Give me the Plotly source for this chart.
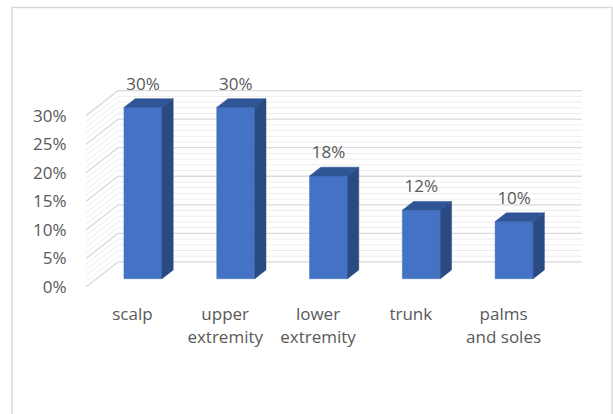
import plotly.graph_objects as go

categories = ["scalp", "upper<br>extremity", "lower<br>extremity", "trunk", "palms<br>and soles"]
values = [30, 30, 18, 12, 10]
labels = ["30%", "30%", "18%", "12%", "10%"]
y_ticks = [0, 5, 10, 15, 20, 25, 30]
y_tick_text = ["0%", "5%", "10%", "15%", "20%", "25%", "30%"]

# 3D projection parameters (in data units)
DX = 0.345   # depth offset along x (category units)
DY = 4.39    # depth offset along y (percent units)
F1, F2 = 0.33, 0.68   # bar front / back depth fraction
BW = 0.41             # bar width
YTOP = 38.0           # axis range top (room for labels)

FRONT = "#4472C4"
TOP = "#2F5597"
SIDE = "#2A4A82"
TXT = "#595959"
FONT = "Open Sans"

fig = go.Figure()

n = len(categories)
x0, x1 = -0.5, n - 0.5

# back wall + side wall gridlines (minor every 1%, major every 5%)
for t in range(0, 31):
    major = (t % 5 == 0)
    col = "#D9D9D9" if major else "#EDEDED"
    wid = 1.3 if major else 1
    fig.add_trace(go.Scatter(
        x=[x0, x0 + DX, x1 + DX], y=[t, t + DY, t + DY],
        mode="lines", line=dict(color=col, width=wid),
        hoverinfo="skip", showlegend=False))

# bars
for i, v in enumerate(values):
    xl, xr = i - BW / 2, i + BW / 2
    fig.add_trace(go.Scatter(
        x=[xl + F1 * DX, xr + F1 * DX, xr + F1 * DX, xl + F1 * DX, xl + F1 * DX],
        y=[F1 * DY, F1 * DY, v + F1 * DY, v + F1 * DY, F1 * DY],
        fill="toself", fillcolor=FRONT, mode="lines",
        line=dict(color=FRONT, width=0.5), hoverinfo="skip", showlegend=False))
    fig.add_trace(go.Scatter(
        x=[xl + F1 * DX, xr + F1 * DX, xr + F2 * DX, xl + F2 * DX, xl + F1 * DX],
        y=[v + F1 * DY, v + F1 * DY, v + F2 * DY, v + F2 * DY, v + F1 * DY],
        fill="toself", fillcolor=TOP, mode="lines",
        line=dict(color=TOP, width=0.5), hoverinfo="skip", showlegend=False))
    fig.add_trace(go.Scatter(
        x=[xr + F1 * DX, xr + F2 * DX, xr + F2 * DX, xr + F1 * DX, xr + F1 * DX],
        y=[F1 * DY, F2 * DY, v + F2 * DY, v + F1 * DY, F1 * DY],
        fill="toself", fillcolor=SIDE, mode="lines",
        line=dict(color=SIDE, width=0.5), hoverinfo="skip", showlegend=False))

# data labels
fig.add_trace(go.Scatter(
    x=[i + F1 * DX for i in range(n)],
    y=[v + 5.3 for v in values],
    text=labels, mode="text", textposition="middle center",
    textfont=dict(family=FONT, size=17, color=TXT),
    cliponaxis=False, hoverinfo="skip", showlegend=False))

W, H = 613, 414
SCALE = 5.70          # px per percent
ml, mr, mb = 86, 31, 127
mt = round(H - mb - YTOP * SCALE, 1)
pw, ph = W - ml - mr, H - mt - mb

def px_x(p):
    return (p - ml) / pw

def px_y(p):
    return (H - mb - p) / ph

fig.update_layout(
    width=W, height=H,
    margin=dict(l=ml, r=mr, t=mt, b=mb, pad=0),
    paper_bgcolor="white", plot_bgcolor="rgba(0,0,0,0)",
    font=dict(family=FONT, size=17, color=TXT),
    xaxis=dict(range=[x0, x1 + DX], tickmode="array",
               tickvals=list(range(n)), ticktext=categories,
               showgrid=False, zeroline=False, showline=False,
               ticks="outside", ticklen=12, tickcolor="rgba(0,0,0,0)",
               tickfont=dict(family=FONT, size=17, color=TXT),
               fixedrange=True),
    yaxis=dict(range=[0, YTOP], tickmode="array",
               tickvals=y_ticks, ticktext=y_tick_text,
               showgrid=False, zeroline=False, showline=False,
               ticks="outside", ticklen=15, tickcolor="rgba(0,0,0,0)",
               tickfont=dict(family=FONT, size=17, color=TXT),
               fixedrange=True),
    shapes=[dict(type="rect", xref="paper", yref="paper",
                 x0=px_x(12), x1=px_x(612), y0=px_y(420), y1=px_y(8),
                 line=dict(color="#D9D9D9", width=1.5), layer="below")],
)

fig.write_html("out.html")
